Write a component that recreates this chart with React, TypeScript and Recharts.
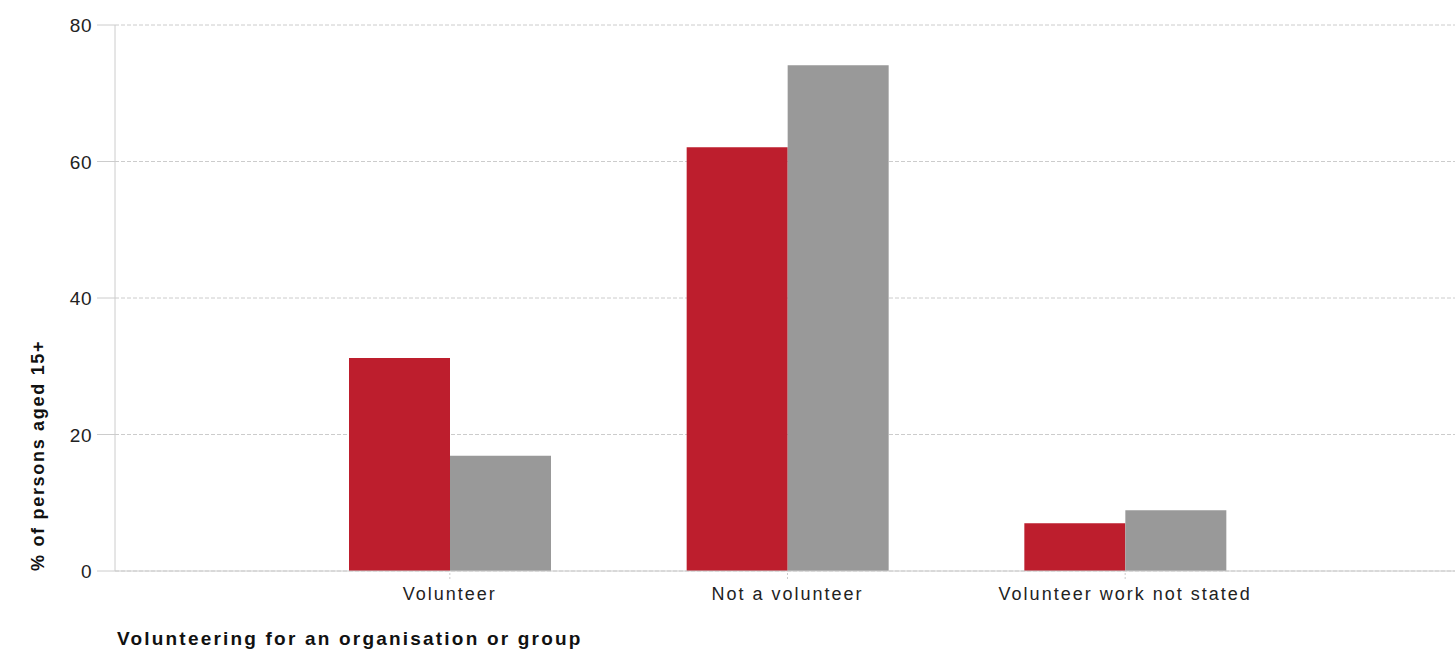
import React from 'react';
import { BarChart, Bar, XAxis, YAxis, CartesianGrid } from 'recharts';

const categories = ['Volunteer', 'Not a volunteer', 'Volunteer work not stated'];
const seriesA = [31.2, 62.1, 7.0];
const seriesB = [16.9, 74.1, 8.9];
const yTicks = [0, 20, 40, 60, 80];

const data = categories.map((c, i) => ({ name: c, a: seriesA[i], b: seriesB[i] }));

const FONT = '"Liberation Sans", Arial, sans-serif';

const XTick = (props: any) => {
  const { x, y, payload } = props;
  return (
    <text x={x} y={y + 19} textAnchor="middle" fontFamily={FONT} fontSize={18} letterSpacing={2} fill="#222">
      {payload.value}
    </text>
  );
};

const YTick = (props: any) => {
  const { x, y, payload } = props;
  return (
    <text x={x - 3} y={y + 7} textAnchor="end" fontFamily={FONT} fontSize={19} letterSpacing={0.5} fill="#222">
      {payload.value}
    </text>
  );
};

const YLabel = (props: any) => {
  const vb = props.viewBox || {};
  const x = vb.x + 44;
  const y = vb.y + vb.height;
  return (
    <text x={x} y={y} transform={`rotate(-90 ${x} ${y})`} textAnchor="start" fontFamily={FONT} fontSize={18} fontWeight="bold" letterSpacing={1.7} fill="#111">
      % of persons aged 15+
    </text>
  );
};

const XLabel = (props: any) => {
  const vb = props.viewBox || {};
  return (
    <text x={117} y={vb.y + 74} textAnchor="start" fontFamily={FONT} fontSize={19} fontWeight="bold" letterSpacing={2.2} fill="#111">
      Volunteering for an organisation or group
    </text>
  );
};

export default function App() {
  return (
    <div style={{ position: 'absolute', left: 0, top: 0, width: 1455, height: 652, background: '#fff' }}>
      <BarChart
        width={1455}
        height={652}
        data={data}
        margin={{ top: 25, right: 0, bottom: 51, left: 0 }}
        barGap={0}
      >
        <CartesianGrid vertical={false} stroke="#cccccc" strokeDasharray="4 2" />
        <XAxis
          dataKey="name"
          height={30}
          padding={{ left: 166, right: 161 }}
          axisLine={{ stroke: '#cccccc' }}
          tickLine={{ stroke: '#cccccc', strokeDasharray: '2 2' }}
          tickSize={8}
          tick={<XTick />}
          interval={0}
          label={{ content: <XLabel /> }}
        />
        <YAxis
          width={115}
          domain={[0, 80]}
          ticks={yTicks}
          axisLine={{ stroke: '#cccccc' }}
          tickLine={{ stroke: '#cccccc' }}
          tickSize={18}
          tick={<YTick />}
          label={{ content: <YLabel /> }}
        />
        <Bar dataKey="a" fill="#bd1e2d" barSize={101} isAnimationActive={false} />
        <Bar dataKey="b" fill="#999999" barSize={101} isAnimationActive={false} />
      </BarChart>
    </div>
  );
}
